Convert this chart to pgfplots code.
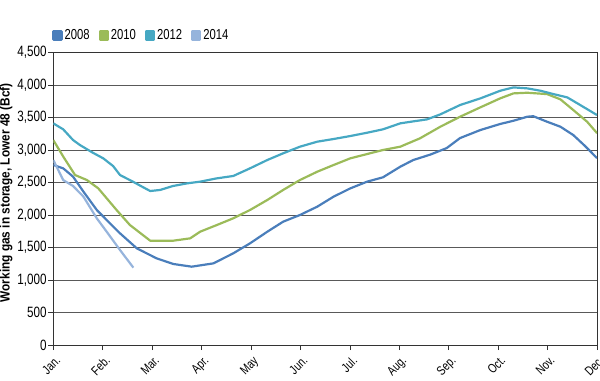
\documentclass[border=0pt]{standalone}
\usepackage{pgfplots}
\pgfplotsset{compat=1.18}
\usepackage{fontspec}
\setmainfont{Liberation Sans}[FakeStretch=0.78]
\newfontfamily\labfont{Liberation Sans}[FakeStretch=0.88]
\definecolor{c08}{RGB}{74,126,187}
\definecolor{c10}{RGB}{155,187,89}
\definecolor{c12}{RGB}{70,168,195}
\definecolor{c14}{RGB}{150,180,220}
\begin{document}
\begin{tikzpicture}
\begin{axis}[
  at={(0,0)}, anchor=south west,
  scale only axis,
  width=543.7bp, height=292.5bp,
  xmin=0, xmax=11, ymin=0, ymax=4500,
  xtick={0,...,11},
  xticklabels={Jan.,Feb.,Mar.,Apr.,May,Jun.,Jul.,Aug.,Sep.,Oct.,Nov.,Dec.},
  xticklabel style={xshift=1.5bp, yshift=-5bp, rotate=45, anchor=north east, font=\fontsize{13}{14}\selectfont, inner sep=0pt},
  ytick={0,500,...,4500},
  yticklabel style={font=\fontsize{15}{16}\selectfont, inner sep=1.5pt},
  /pgf/number format/assume math mode=true,
  /pgf/number format/.cd, 1000 sep={,},
  /pgfplots/.cd,
  ymajorgrids,
  grid style={black!65, line width=0.7pt},
  axis line style={black!80, line width=0.7pt},
  tick style={black!80, line width=0.6pt},
  major tick length=5bp,
  tick align=outside,
  xtick pos=bottom, ytick pos=left,
  ylabel={\labfont\bfseries Working gas in storage, Lower 48 (Bcf)},
  ylabel style={font=\fontsize{13.5}{14}\selectfont, at={(ticklabel cs:0.52)}, yshift=0bp},
  legend style={at={(0,1)}, anchor=south west, draw=none, fill=none, legend columns=4,
    font=\fontsize{14.5}{15}\selectfont, yshift=7bp, xshift=-4bp,
    /tikz/every even column/.append style={column sep=7bp}},
  legend image code/.code={\fill[#1] (0bp,-4bp) rectangle (8bp,4bp);},
  every axis plot/.append style={line width=2.2pt, line join=round},
]
\addplot[c08] coordinates {
(0,2769)(0.20,2718)(0.40,2590)(0.61,2359)(0.88,2077)(1.08,1923)(1.35,1718)(1.69,1487)
(2.09,1333)(2.43,1246)(2.80,1205)(3.24,1256)(3.64,1410)(3.98,1564)(4.33,1743)(4.65,1897)
(4.99,2000)(5.34,2128)(5.67,2282)(6.01,2410)(6.35,2513)(6.67,2580)(7.02,2743)(7.28,2845)
(7.63,2930)(7.96,3030)(8.23,3184)(8.64,3307)(9.04,3400)(9.31,3450)(9.59,3512)(9.71,3520)
(9.99,3435)(10.26,3358)(10.52,3230)(10.76,3060)(11.0,2875)};
\addlegendentry{2008}
\addplot[c10] coordinates {
(0,3153)(0.20,2900)(0.44,2615)(0.68,2538)(0.91,2410)(1.28,2077)(1.55,1846)(1.96,1605)
(2.43,1605)(2.77,1641)(2.97,1743)(3.31,1846)(3.64,1949)(3.98,2077)(4.33,2231)(4.65,2385)
(4.99,2538)(5.34,2666)(5.67,2769)(6.01,2872)(6.35,2938)(6.67,3000)(7.02,3051)(7.42,3180)
(7.83,3358)(8.23,3512)(8.64,3656)(9.04,3794)(9.31,3871)(9.59,3881)(9.99,3860)(10.26,3779)
(10.52,3615)(10.80,3435)(11.0,3260)};
\addlegendentry{2010}
\addplot[c12] coordinates {
(0,3410)(0.20,3318)(0.40,3153)(0.54,3076)(0.80,2958)(1.01,2872)(1.21,2753)(1.35,2615)
(1.61,2513)(1.82,2426)(1.96,2369)(2.16,2385)(2.42,2446)(2.71,2487)(2.97,2513)(3.31,2564)
(3.64,2600)(3.98,2718)(4.33,2846)(4.65,2949)(4.99,3051)(5.34,3128)(5.67,3169)(6.01,3215)
(6.35,3266)(6.67,3318)(7.02,3410)(7.28,3440)(7.56,3471)(7.83,3548)(8.23,3692)(8.64,3794)
(9.04,3911)(9.31,3963)(9.59,3948)(9.86,3911)(10.12,3860)(10.40,3809)(10.66,3692)(11.0,3538)};
\addlegendentry{2012}
\addplot[c14] coordinates {
(0,2846)(0.20,2538)(0.40,2446)(0.61,2282)(0.88,1949)(1.08,1743)(1.35,1461)(1.62,1190)};
\addlegendentry{2014}
\end{axis}
\pgfresetboundingbox
\path (-53.3bp,-36bp) rectangle (546.7bp,345bp);
\end{tikzpicture}
\end{document}
